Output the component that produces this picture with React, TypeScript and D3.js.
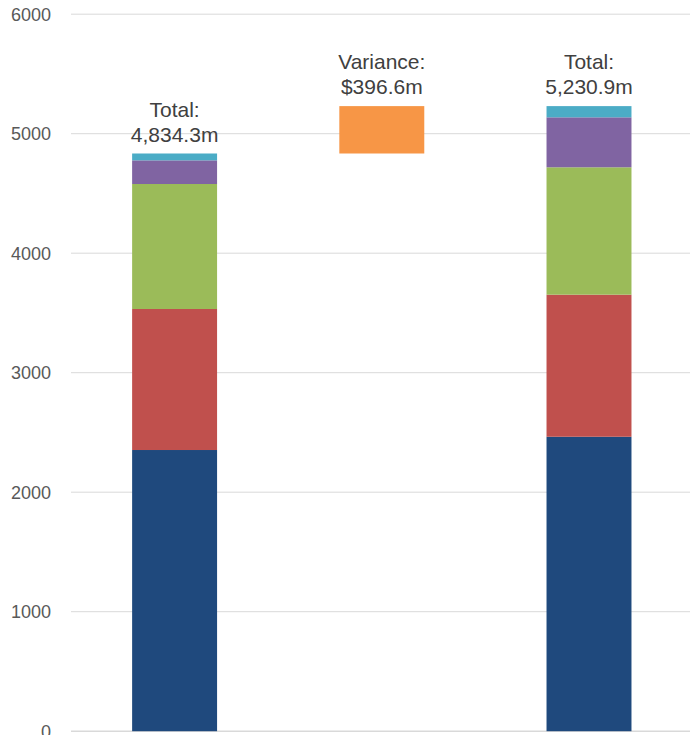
import React from "react";
import * as d3 from "d3";

const categories = ["Prior", "Variance", "Current"];
const seriesNames = ["Segment A", "Segment B", "Segment C", "Segment D", "Segment E"];
const priorValues = [2353, 1180, 1046, 198, 57.3];
const currentValues = [2464, 1189, 1066, 418, 93.9];
const yTicks = [0, 1000, 2000, 3000, 4000, 5000, 6000];
const seriesColors = ["#1F497D", "#C0504D", "#9BBB59", "#8064A2", "#4BACC6"];
const varianceColor = "#F79646";

const W = 690;
const H = 735;

export default function App() {
  const x = d3.scaleBand<string>().domain(categories).range([71, 692.6]).padding(0);
  const y = d3.scaleLinear().domain([0, 6000]).range([731.2, 14.2]);
  const barW = x.bandwidth() * 0.41;
  const fmt = d3.format(",.1f");

  const priorTotal = d3.sum(priorValues);
  const currentTotal = d3.sum(currentValues);
  const variance = currentTotal - priorTotal;

  const stackBars = (vals: number[], cat: string) => {
    let acc = 0;
    const cx = (x(cat) as number) + x.bandwidth() / 2;
    return vals.map((v, i) => {
      const y0 = acc;
      acc += v;
      return (
        <rect
          key={cat + seriesNames[i]}
          x={cx - barW / 2}
          width={barW}
          y={y(acc)}
          height={y(y0) - y(acc)}
          fill={seriesColors[i]}
        />
      );
    });
  };

  const label = (cat: string, top: number, l1: string, l2: string) => {
    const cx = (x(cat) as number) + x.bandwidth() / 2;
    const by = y(top) - 12;
    return (
      <g key={"lab" + cat} fontFamily="'Liberation Sans', Arial, sans-serif" fontSize={21} fill="#404040" textAnchor="middle">
        <text x={cx} y={by - 25}>{l1}</text>
        <text x={cx} y={by}>{l2}</text>
      </g>
    );
  };

  const vcx = (x("Variance") as number) + x.bandwidth() / 2;

  return (
    <svg width={W} height={H} style={{ position: "absolute", left: 0, top: 0, background: "#fff" }}>
      {yTicks.map((t) => (
        <g key={t}>
          <line x1={71} x2={W} y1={y(t)} y2={y(t)} stroke="#d9d9d9" strokeWidth={t === 0 ? 1.5 : 1} />
          <text
            x={51}
            y={y(t)}
            dy="0.35em"
            textAnchor="end"
            fontFamily="'Liberation Sans', Arial, sans-serif"
            fontSize={18}
            fill="#595959"
          >
            {t}
          </text>
        </g>
      ))}
      {stackBars(priorValues, "Prior")}
      {stackBars(currentValues, "Current")}
      <rect
        x={vcx - barW / 2}
        width={barW}
        y={y(priorTotal + variance)}
        height={y(priorTotal) - y(priorTotal + variance)}
        fill={varianceColor}
      />
      {label("Prior", priorTotal, "Total:", fmt(priorTotal) + "m")}
      {label("Variance", currentTotal, "Variance:", "$" + fmt(variance) + "m")}
      {label("Current", currentTotal, "Total:", fmt(currentTotal) + "m")}
    </svg>
  );
}
